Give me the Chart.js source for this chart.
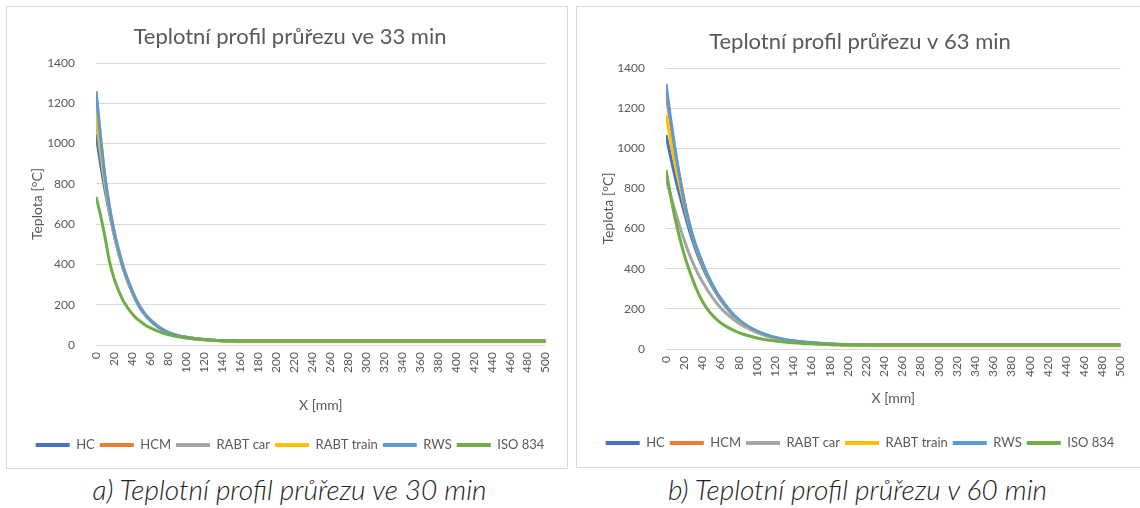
<!DOCTYPE html>
<html>
<head>
<meta charset="utf-8">
<script src="https://cdn.jsdelivr.net/npm/chart.js@4.4.1/dist/chart.umd.min.js"></script>
<style>
  html, body { margin: 0; padding: 0; background: #fff; width: 1140px; height: 508px; overflow: hidden; position: relative; }
  .panel { position: absolute; border: 1px solid #d9d9d9; background: #fff; }
  #panelA { left: 6px; top: 6px; width: 560px; height: 461px; }
  #panelB { left: 576px; top: 6px; width: 565px; height: 460px; }
  .panel canvas { display: block; }
  .cap { position: absolute; top: 473px; height: 32px; line-height: 32px; font-family: Lato, "Open Sans", sans-serif; font-style: italic; font-weight: 300; font-size: 28px; color: #222; text-align: center; white-space: nowrap; }
  #capA { left: 0; width: 579px; }
  #capB { left: 578px; width: 559px; }
</style>
</head>
<body>
<div class="panel" id="panelA"><canvas id="chartA" width="560" height="461"></canvas></div>
<div class="panel" id="panelB"><canvas id="chartB" width="565" height="460"></canvas></div>
<div class="cap" id="capA">a) Teplotní profil průřezu ve 30 min</div>
<div class="cap" id="capB">b) Teplotní profil průřezu v 60 min</div>

<script>
// Depth into the cross-section [mm]
const X_MM = [0, 5, 10, 15, 20, 25, 30, 35, 40, 45, 50, 55, 60, 70, 80, 90, 100, 110, 120, 130,
              140, 150, 160, 170, 180, 190, 200, 220, 240, 260, 280, 300, 350, 400, 450, 500];

// Axis tick labels
const X_TICKS = [0, 20, 40, 60, 80, 100, 120, 140, 160, 180, 200, 220, 240, 260, 280, 300,
                 320, 340, 360, 380, 400, 420, 440, 460, 480, 500];
const Y_TICKS = [0, 200, 400, 600, 800, 1000, 1200, 1400];

const SERIES_NAMES = ['HC', 'HCM', 'RABT car', 'RABT train', 'RWS', 'ISO 834'];
const SERIES_COLORS = ['#4472C4', '#ED7D31', '#A5A5A5', '#FFC000', '#5B9BD5', '#70AD47'];

// Temperatures [°C] after 33 min
const HC_33        = [1048, 900, 770, 655, 550, 460, 382, 318, 264, 216, 177, 147, 122, 86, 62, 47, 38, 31, 27, 24, 22, 21, 20, 20, 20, 20, 20, 20, 20, 20, 20, 20, 20, 20, 20, 20];
const HCM_33       = [1255, 1035, 835, 685, 568, 473, 393, 328, 272, 222, 182, 152, 127, 89, 64, 49, 39, 32, 27, 24, 22, 21, 20, 20, 20, 20, 20, 20, 20, 20, 20, 20, 20, 20, 20, 20];
const RABT_CAR_33  = [1120, 950, 795, 665, 555, 462, 384, 320, 266, 218, 179, 149, 124, 87, 63, 48, 38, 32, 27, 24, 22, 21, 20, 20, 20, 20, 20, 20, 20, 20, 20, 20, 20, 20, 20, 20];
const RABT_TRAIN_33 = [1158, 975, 805, 670, 558, 465, 386, 321, 267, 219, 180, 150, 125, 88, 63, 48, 38, 31, 26, 22, 19, 17, 16, 16, 16, 16, 16, 16, 16, 16, 16, 16, 16, 16, 16, 16];
const RWS_33       = [1260, 1032, 832, 682, 566, 471, 391, 326, 271, 221, 181, 151, 126, 88, 63, 48, 38, 32, 27, 24, 22, 21, 20, 20, 20, 20, 20, 20, 20, 20, 20, 20, 20, 20, 20, 20];
const ISO_33       = [736, 645, 535, 415, 332, 272, 222, 186, 156, 132, 115, 98, 86, 66, 52, 42, 35, 30, 26, 23, 21, 20, 20, 20, 20, 20, 20, 20, 20, 20, 20, 20, 20, 20, 20, 20];

// Temperatures [°C] after 63 min
const HC_63        = [1066, 960, 858, 768, 684, 602, 530, 466, 412, 362, 319, 280, 245, 187, 142, 110, 86, 68, 55, 45, 38, 33, 29, 26, 23, 21, 20, 20, 20, 20, 20, 20, 20, 20, 20, 20];
const HCM_63       = [1274, 1125, 985, 855, 740, 640, 556, 487, 428, 374, 329, 287, 251, 191, 145, 112, 88, 70, 57, 47, 40, 35, 31, 28, 25, 23, 21, 20, 20, 20, 20, 20, 20, 20, 20, 20];
const RABT_CAR_63  = [852, 768, 688, 612, 543, 480, 425, 377, 336, 298, 264, 233, 206, 162, 128, 102, 82, 66, 54, 45, 38, 33, 29, 26, 23, 21, 20, 20, 20, 20, 20, 20, 20, 20, 20, 20];
const RABT_TRAIN_63 = [1166, 1040, 920, 815, 718, 628, 549, 482, 424, 371, 326, 285, 249, 189, 144, 111, 87, 69, 56, 46, 39, 34, 30, 26, 23, 21, 19, 17, 16, 16, 16, 16, 16, 16, 16, 16];
const RWS_63       = [1320, 1150, 995, 860, 735, 635, 552, 488, 430, 375, 330, 288, 252, 192, 146, 113, 89, 71, 58, 48, 41, 36, 32, 29, 26, 24, 22, 20, 20, 20, 20, 20, 20, 20, 20, 20];
const ISO_63       = [892, 765, 650, 555, 470, 400, 338, 283, 238, 202, 173, 150, 131, 103, 82, 67, 55, 46, 40, 35, 31, 28, 26, 24, 23, 22, 21, 20, 20, 20, 20, 20, 20, 20, 20, 20];

const FONT = 'Lato, "Open Sans", sans-serif';
const TEXT = '#595959';

function buildDatasets(seriesValues) {
  return seriesValues.map((vals, i) => ({
    label: SERIES_NAMES[i],
    data: X_MM.map((x, k) => ({ x: x, y: vals[k] })),
    borderColor: SERIES_COLORS[i],
    backgroundColor: SERIES_COLORS[i],
    borderWidth: 3,
    pointRadius: 0,
    fill: false,
    cubicInterpolationMode: 'monotone',
    borderJoinStyle: 'round',
    // first series drawn first, last series on top
    order: seriesValues.length - i
  }));
}

function makeChart(canvasId, titleText, seriesValues, L) {
  return new Chart(document.getElementById(canvasId), {
    type: 'line',
    data: { datasets: buildDatasets(seriesValues) },
    options: {
      responsive: false,
      animation: false,
      events: [],
      layout: { padding: { left: L.padLeft, right: L.padRight, top: 0, bottom: L.padBottom } },
      plugins: {
        title: {
          display: true,
          text: titleText,
          color: TEXT,
          font: { family: FONT, size: 22, weight: 'normal', lineHeight: 1.2 },
          padding: { top: L.titleTop, bottom: L.titleBottom }
        },
        legend: {
          display: true,
          position: 'bottom',
          labels: {
            color: TEXT,
            font: { family: FONT, size: 13 },
            boxWidth: 34,
            boxHeight: 4,
            padding: 5,
            sort: (a, b) => a.datasetIndex - b.datasetIndex,
            generateLabels: (chart) =>
              Chart.defaults.plugins.legend.labels.generateLabels(chart).map(it => Object.assign(it, { lineWidth: 0 }))
          }
        },
        tooltip: { enabled: false }
      },
      scales: {
        x: {
          type: 'linear',
          min: 0,
          max: 500,
          afterBuildTicks: (s) => { s.ticks = X_TICKS.map(v => ({ value: v })); },
          afterFit: (s) => { s.height = L.xHeight; },
          grid: { display: false, drawTicks: false },
          border: { display: false },
          ticks: {
            autoSkip: false,
            minRotation: 90,
            maxRotation: 90,
            padding: 7,
            color: TEXT,
            font: { family: FONT, size: 12 },
            callback: (v) => String(v)
          },
          title: {
            display: true,
            text: 'X [mm]',
            color: TEXT,
            font: { family: FONT, size: 14 },
            padding: { top: 0, bottom: L.xTitleBottom }
          }
        },
        y: {
          min: 0,
          max: 1400,
          afterBuildTicks: (s) => { s.ticks = Y_TICKS.map(v => ({ value: v })); },
          afterFit: (s) => { s.width = L.yWidth; },
          grid: { color: '#d9d9d9', lineWidth: 1, drawTicks: false },
          border: { display: false },
          ticks: {
            padding: 21,
            color: TEXT,
            font: { family: FONT, size: 12 },
            callback: (v) => String(v)
          },
          title: {
            display: true,
            text: 'Teplota [°C]',
            color: TEXT,
            font: { family: FONT, size: 14 },
            padding: { top: L.yTitleTop, bottom: 0 }
          }
        }
      }
    }
  });
}

makeChart('chartA', 'Teplotní profil průřezu ve 33 min',
  [HC_33, HCM_33, RABT_CAR_33, RABT_TRAIN_33, RWS_33, ISO_33],
  { padLeft: 20, padRight: 14, padBottom: 6.5, titleTop: 16.8, titleBottom: 12.8,
    xHeight: 88.5, xTitleBottom: 19.5, yWidth: 69, yTitleTop: 1.6 });

makeChart('chartB', 'Teplotní profil průřezu v 63 min',
  [HC_63, HCM_63, RABT_CAR_63, RABT_TRAIN_63, RWS_63, ISO_63],
  { padLeft: 20, padRight: 19, padBottom: 7.5, titleTop: 21.8, titleBottom: 12.8,
    xHeight: 82.5, xTitleBottom: 24.5, yWidth: 69, yTitleTop: 2.6 });
</script>
</body>
</html>
